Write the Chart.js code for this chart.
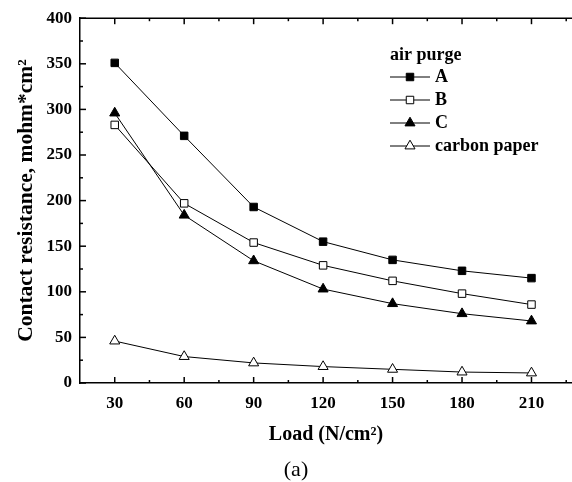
<!DOCTYPE html>
<html>
<head>
<meta charset="utf-8">
<script src="https://cdn.jsdelivr.net/npm/chart.js@4"></script>
<style>
html, body { margin: 0; padding: 0; background: #fff; }
#chartBox { width: 572px; height: 482px; }
</style>
</head>
<body>
<div id="chartBox"><canvas id="resistanceChart" width="572" height="482"></canvas></div>
<script>
// values
const loads = [30, 60, 90, 120, 150, 180, 210];
const purgeA = [351, 271, 193, 155, 135, 123, 115];
const purgeB = [283, 197, 154, 129, 112, 98, 86];
const purgeC = [296, 184, 134, 103, 87, 76, 68];
const carbonPaper = [46, 29, 22, 18, 15, 12, 11];

const xTicks = [30, 60, 90, 120, 150, 180, 210];
const xMinor = [45, 75, 105, 135, 165, 195, 225];
const yTicks = [0, 50, 100, 150, 200, 250, 300, 350, 400];
const yMinor = [25, 75, 125, 175, 225, 275, 325, 375];

const serif = '"Liberation Serif", "Times New Roman", serif';
const tickFont = { family: serif, size: 17, weight: 'bold' };

function toPoints(values) {
    return loads.map((x, i) => ({ x: x, y: values[i] }));
}

function series(label, values, style, fill, radius) {
    return {
        label: label,
        data: toPoints(values),
        borderColor: '#000',
        borderWidth: 1,
        pointStyle: style,
        pointRadius: radius,
        pointBorderWidth: 1,
        pointBorderColor: '#000',
        pointBackgroundColor: fill,
        tension: 0
    };
}

const datasets = [
    series('A', purgeA, 'rect', '#000', 5.3),
    series('B', purgeB, 'rect', '#fff', 5.3),
    series('C', purgeC, 'triangle', '#000', 5.8),
    series('carbon paper', carbonPaper, 'triangle', '#fff', 5.8)
];

// top frame line, inward ticks, legend and panel label
const frameAndLegend = {
    id: 'frameAndLegend',
    afterDraw(chart) {
        const { ctx, chartArea: a, scales: { x, y } } = chart;
        ctx.save();
        ctx.strokeStyle = '#000';
        ctx.lineWidth = 1.5;
        ctx.beginPath();
        ctx.moveTo(a.left, a.top);
        ctx.lineTo(a.right, a.top);
        ctx.stroke();

        function tick(x1, y1, x2, y2) {
            ctx.beginPath();
            ctx.moveTo(x1, y1);
            ctx.lineTo(x2, y2);
            ctx.stroke();
        }
        xTicks.forEach(v => {
            const px = x.getPixelForValue(v);
            tick(px, a.bottom, px, a.bottom - 6);
            tick(px, a.top, px, a.top + 6);
        });
        xMinor.forEach(v => {
            const px = x.getPixelForValue(v);
            tick(px, a.bottom, px, a.bottom - 3);
            tick(px, a.top, px, a.top + 3);
        });
        yTicks.forEach(v => {
            const py = y.getPixelForValue(v);
            tick(a.left, py, a.left + 6, py);
        });
        yMinor.forEach(v => {
            const py = y.getPixelForValue(v);
            tick(a.left, py, a.left + 3, py);
        });

        // legend
        ctx.fillStyle = '#000';
        ctx.font = 'bold 18px ' + serif;
        ctx.textAlign = 'left';
        ctx.textBaseline = 'middle';
        ctx.fillText('air purge', 390, 55);
        chart.data.datasets.forEach((ds, i) => {
            const ly = 77 + i * 23;
            ctx.lineWidth = 1;
            tick(390, ly, 430, ly);
            ctx.fillStyle = ds.pointBackgroundColor;
            ctx.strokeStyle = '#000';
            Chart.helpers.drawPoint(ctx, {
                pointStyle: ds.pointStyle,
                radius: ds.pointRadius,
                rotation: 0,
                borderWidth: 1
            }, 410, ly);
            ctx.fillStyle = '#000';
            ctx.fillText(ds.label, 435, ly);
        });

        ctx.font = '22px ' + serif;
        ctx.textAlign = 'center';
        ctx.fillText('(a)', 296, 470);
        ctx.restore();
    }
};

new Chart(document.getElementById('resistanceChart'), {
    type: 'line',
    data: { datasets: datasets },
    options: {
        responsive: false,
        animation: false,
        layout: { autoPadding: false, padding: { top: 15, right: 0, bottom: 0, left: 0 } },
        plugins: {
            legend: { display: false },
            tooltip: { enabled: false }
        },
        scales: {
            x: {
                type: 'linear',
                min: 15,
                max: 227.5,
                afterBuildTicks: s => { s.ticks = xTicks.map(v => ({ value: v })); },
                afterFit: s => { s.height = 99; s.paddingRight = 0; s.paddingLeft = 0; },
                ticks: { font: tickFont, color: '#000', padding: 10, maxRotation: 0, autoSkip: false },
                grid: { display: false, drawTicks: false },
                border: { display: true, color: '#000', width: 1.5 },
                title: {
                    display: true,
                    text: 'Load (N/cm²)',
                    font: { family: serif, size: 20, weight: 'bold' },
                    color: '#000',
                    padding: { top: 0, bottom: 35 }
                }
            },
            y: {
                min: 0,
                max: 400,
                afterBuildTicks: s => { s.ticks = yTicks.map(v => ({ value: v })); },
                afterFit: s => { s.width = 80; },
                ticks: { font: tickFont, color: '#000', padding: 8, autoSkip: false },
                grid: { display: false, drawTicks: false },
                border: { display: true, color: '#000', width: 1.5 },
                title: {
                    display: true,
                    text: 'Contact resistance, mohm*cm²',
                    font: { family: serif, size: 21.5, weight: 'bold' },
                    color: '#000',
                    padding: { top: 14, bottom: 0 }
                }
            }
        }
    },
    plugins: [frameAndLegend]
});
</script>
</body>
</html>
